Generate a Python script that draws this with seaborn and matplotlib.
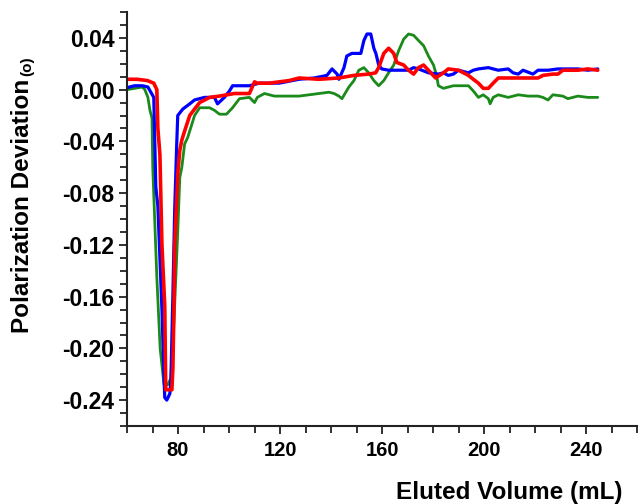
import numpy as np
import pandas as pd
import matplotlib
matplotlib.use("Agg")
import matplotlib.pyplot as plt
import seaborn as sns
from matplotlib.ticker import MultipleLocator, FixedLocator, FuncFormatter

# ---------------- data ----------------
blue_x = [60, 63, 66, 68.2, 70.5, 71.3, 72.1, 72.9, 73.7, 74.4, 74.8, 75.6, 76.8, 77.2, 78.0, 78.7,
          79.5, 79.9, 81.9, 84.6, 86.5, 90.4, 94.3, 95.5, 98.2, 100.2, 101.4, 108, 111.9, 119.7,
          127.5, 133.4, 138.4, 140.4, 142.4, 143.1, 145.1, 146.2, 148.2, 151.7, 152.9, 154.1,
          155.6, 156.8, 157.6, 158.7, 159.9, 162.6, 166.5, 170.4, 172.4, 174.3, 178.2, 182.1,
          184.1, 186, 188, 190, 193.9, 195.8, 197.8, 201.7, 205.6, 209.5, 211.4, 213.4, 215.3,
          219.2, 221.2, 225.1, 229, 232.9, 236.8, 240.7, 244.6]
blue_y = [0.0015, 0.003, 0.003, 0.002, -0.006, -0.075, -0.09, -0.13, -0.17, -0.215, -0.238, -0.240,
          -0.235, -0.225, -0.158, -0.093, -0.042, -0.020, -0.015, -0.011, -0.008, -0.006, -0.006,
          -0.011, -0.006, -0.001, 0.003, 0.003, 0.005, 0.005, 0.008, 0.009, 0.011, 0.016, 0.012,
          0.008, 0.017, 0.026, 0.028, 0.028, 0.038, 0.043, 0.043, 0.032, 0.028, 0.019, 0.016,
          0.015, 0.015, 0.015, 0.017, 0.016, 0.013, 0.012, 0.013, 0.011, 0.012, 0.015, 0.013,
          0.015, 0.016, 0.017, 0.015, 0.016, 0.013, 0.012, 0.015, 0.012, 0.015, 0.015, 0.016,
          0.016, 0.016, 0.015, 0.016]

red_x = [60, 64, 68, 70.5, 71.7, 72.1, 72.9, 73.7, 74.8, 75.2, 77.6, 78.0, 78.4, 78.7, 79.5,
         79.9, 80.7, 81.5, 82.6, 84.6, 86.5, 88.5, 92.4, 96.3, 102.1, 108, 110, 111.1, 115.8,
         123.6, 127.5, 135.3, 143.1, 149, 154.8, 157.5, 158.7, 160.7, 162.6, 164.6, 165.8,
         168.5, 170.4, 172.4, 174.3, 176.3, 178.2, 181.0, 184.1, 186, 190, 193.9, 195.8, 197.8,
         199.7, 201.7, 203.6, 205.6, 209.5, 221.2, 223.1, 227, 229, 230.9, 236.8, 240.7, 244.6]
red_y = [0.008, 0.008, 0.007, 0.005, 0.0, -0.03, -0.05, -0.12, -0.167, -0.232, -0.232, -0.215,
         -0.17, -0.12, -0.085, -0.065, -0.047, -0.039, -0.032, -0.020, -0.015, -0.010, -0.006,
         -0.005, -0.003, -0.003, 0.006, 0.005, 0.005, 0.007, 0.009, 0.008, 0.009, 0.011, 0.012,
         0.013, 0.017, 0.028, 0.032, 0.028, 0.021, 0.019, 0.015, 0.012, 0.017, 0.019, 0.015,
         0.009, 0.013, 0.016, 0.015, 0.011, 0.008, 0.005, 0.001, 0.001, 0.005, 0.009, 0.009,
         0.009, 0.011, 0.012, 0.012, 0.015, 0.015, 0.016, 0.015]

green_x = [60, 63, 66, 67, 68.2, 69, 69.8, 70.1, 71.7, 73.0, 74.5, 76.0, 77.2, 78.4, 79.9, 80.7,
           81.5, 82.6, 83.8, 84.6, 86.5, 88.5, 92.4, 94.3, 96.3, 99.0, 101.4, 104.1, 108, 110,
           111.1, 113.9, 117.8, 127.5, 135.3, 139.2, 141.2, 143.1, 144.3, 147, 149, 150.9, 152.9,
           154.8, 156.8, 158.7, 160.7, 162.6, 164.6, 166.5, 168.5, 170.4, 172.4, 174.3, 176.3,
           178.2, 180.2, 181.4, 182.1, 184.1, 188, 193.9, 195.8, 197.8, 199.7, 201.7, 202.4,
           203.6, 205.6, 209.5, 213.4, 217.3, 221.2, 223.1, 225.1, 227, 230.9, 232.9, 236.8,
           240.7, 244.6]
green_y = [0.0, 0.001, 0.002, 0.0, -0.006, -0.016, -0.022, -0.06, -0.145, -0.2, -0.228, -0.228,
           -0.223, -0.18, -0.11, -0.068, -0.06, -0.042, -0.037, -0.032, -0.02, -0.014, -0.014,
           -0.016, -0.019, -0.019, -0.014, -0.007, -0.006, -0.010, -0.006, -0.003, -0.005,
           -0.005, -0.003, -0.002, -0.003, -0.005, -0.007, 0.002, 0.007, 0.015, 0.017, 0.013,
           0.007, 0.003, 0.007, 0.013, 0.019, 0.030, 0.039, 0.043, 0.042, 0.038, 0.034, 0.026,
           0.019, 0.011, 0.003, 0.001, 0.003, 0.003, -0.001, -0.006, -0.004, -0.007, -0.011,
           -0.006, -0.004, -0.006, -0.004, -0.005, -0.005, -0.006, -0.008, -0.004, -0.005,
           -0.007, -0.005, -0.006, -0.006]

x_ticks = [80, 120, 160, 200, 240]
y_ticks = [-0.24, -0.20, -0.16, -0.12, -0.08, -0.04, 0.00, 0.04]

# ---------------- style ----------------
sns.set_style("ticks")
plt.rcParams["font.family"] = ["Liberation Sans", "DejaVu Sans"]
plt.rcParams["font.weight"] = "bold"
plt.rcParams["text.color"] = "black"
plt.rcParams["xtick.color"] = "black"
plt.rcParams["ytick.color"] = "black"

fig = plt.figure(figsize=(6.39, 5.04), dpi=100)
ax = fig.add_axes([127 / 639, 1 - 426 / 504, (637 - 127) / 639, (426 - 12) / 504])

series = [
    ("green", green_x, green_y, "#1a8a1a", 2.0),
    ("blue", blue_x, blue_y, "#0000ff", 2.3),
    ("red", red_x, red_y, "#ff0000", 2.6),
]
for name, xs, ys, col, lw in series:
    df = pd.DataFrame({"x": xs, "y": ys})
    sns.lineplot(data=df, x="x", y="y", ax=ax, color=col, linewidth=lw,
                 sort=False, estimator=None)

ax.set_xlim(60, 260)
ax.set_ylim(-0.26, 0.06)
ax.xaxis.set_major_locator(FixedLocator(x_ticks))
ax.xaxis.set_minor_locator(MultipleLocator(10))
ax.yaxis.set_major_locator(FixedLocator(y_ticks))
ax.yaxis.set_minor_locator(MultipleLocator(0.01))
ax.yaxis.set_major_formatter(FuncFormatter(lambda v, p: f"{round(v, 2):.2f}".replace("-0.00", "0.00")))
ax.xaxis.set_major_formatter(FuncFormatter(lambda v, p: f"{int(round(v))}"))

for s in ["top", "right"]:
    ax.spines[s].set_visible(False)
for s in ["left", "bottom"]:
    ax.spines[s].set_linewidth(1.5)
    ax.spines[s].set_color("#222222")

ax.tick_params(axis="both", which="both", direction="out", width=1.3, color="#222222",
               labelcolor="black")
ax.tick_params(axis="both", which="major", length=6)
ax.tick_params(axis="both", which="minor", length=5)
ax.tick_params(axis="y", which="major", labelsize=16.5, pad=3)
ax.tick_params(axis="x", which="major", labelsize=14.5, pad=5)
for lab in ax.get_xticklabels() + ax.get_yticklabels():
    lab.set_fontweight("bold")

ax.set_xlabel("")
ax.set_ylabel("")

fig.text(622 / 639, 1 - 492 / 504, "Eluted Volume (mL)", ha="right", va="center",
         fontsize=17.5, fontweight="bold", color="black")
fig.text(23 / 639, 1 - 206 / 504, "Polarization Deviation", rotation=90, ha="center",
         va="center", fontsize=17.5, fontweight="bold", color="black")
fig.text(27 / 639, 1 - 66 / 504, "(o)", rotation=90, ha="center", va="center",
         fontsize=11, fontweight="bold", color="black")

fig.savefig("out.png", dpi=100)
